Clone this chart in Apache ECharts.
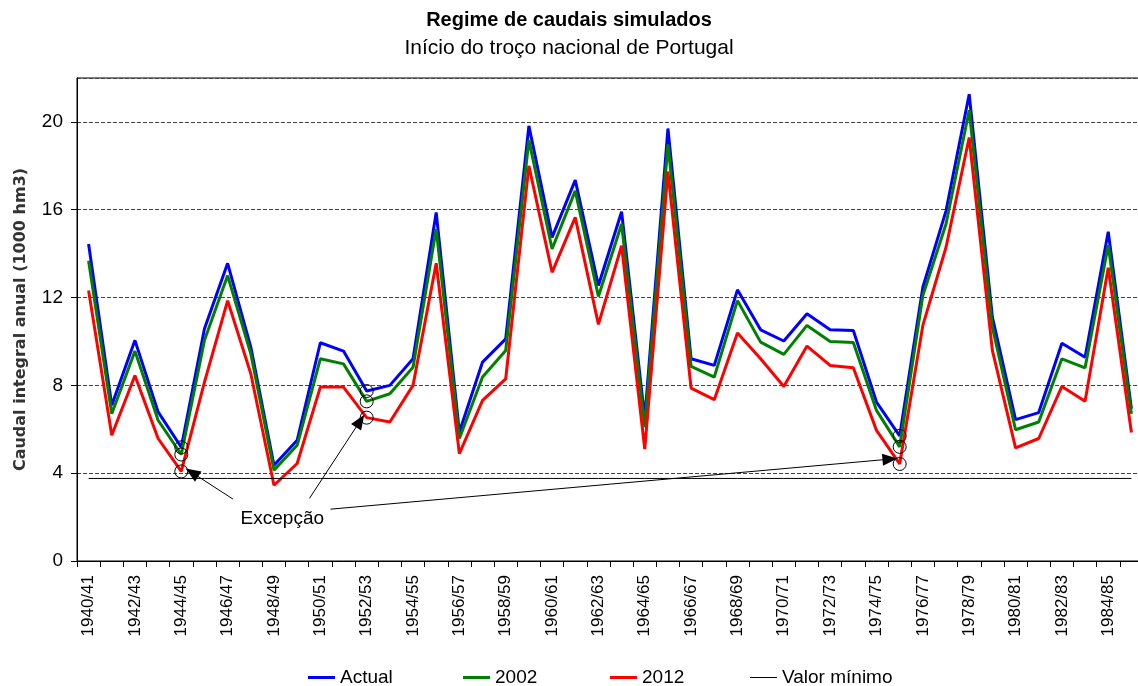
<!DOCTYPE html>
<html>
<head>
<meta charset="utf-8">
<script src="https://cdn.jsdelivr.net/npm/echarts@6/dist/echarts.min.js"></script>
<style>
    html, body { margin: 0; padding: 0; background: #fff; }
    #chart { width: 1138px; height: 686px; }
</style>
</head>
<body>
<div id="chart"></div>
<script>
const categories = [
    '1940/41', '1941/42', '1942/43', '1943/44', '1944/45', '1945/46', '1946/47', '1947/48',
    '1948/49', '1949/50', '1950/51', '1951/52', '1952/53', '1953/54', '1954/55', '1955/56',
    '1956/57', '1957/58', '1958/59', '1959/60', '1960/61', '1961/62', '1962/63', '1963/64',
    '1964/65', '1965/66', '1966/67', '1967/68', '1968/69', '1969/70', '1970/71', '1971/72',
    '1972/73', '1973/74', '1974/75', '1975/76', '1976/77', '1977/78', '1978/79', '1979/80',
    '1980/81', '1981/82', '1982/83', '1983/84', '1984/85', '1985/86'
];
const actual = [14.44, 7.09, 10.05, 6.79, 5.18, 10.58, 13.56, 9.74, 4.36, 5.5, 9.94, 9.56, 7.74, 8.0, 9.21, 15.88,
    5.88, 9.06, 10.12, 19.82, 14.74, 17.35, 12.55, 15.91, 6.5, 19.7, 9.21, 8.91, 12.35, 10.53, 10.02, 11.26,
    10.53, 10.5, 7.24, 5.7, 12.47, 15.95, 21.26, 11.11, 6.44, 6.76, 9.92, 9.28, 15.0, 6.94];
const v2002 = [13.68, 6.71, 9.56, 6.41, 4.85, 10.05, 13.0, 9.44, 4.14, 5.27, 9.21, 8.98, 7.27, 7.62, 8.83, 15.12,
    5.58, 8.38, 9.59, 19.17, 14.21, 16.86, 12.05, 15.35, 6.1, 18.98, 8.86, 8.38, 11.86, 9.97, 9.41, 10.73,
    10.0, 9.95, 6.86, 5.2, 12.09, 15.35, 20.53, 10.65, 5.98, 6.33, 9.21, 8.8, 14.38, 6.7];
const v2012 = [12.32, 5.73, 8.45, 5.58, 4.08, 8.15, 11.86, 8.53, 3.45, 4.44, 7.92, 7.92, 6.53, 6.33, 8.0, 13.56,
    4.89, 7.32, 8.3, 18.0, 13.15, 15.65, 10.78, 14.36, 5.1, 17.74, 7.87, 7.35, 10.38, 9.21, 7.95, 9.79,
    8.91, 8.8, 5.95, 4.42, 10.73, 14.29, 19.29, 9.59, 5.15, 5.58, 7.95, 7.28, 13.36, 5.85];
const valorMinimo = 3.76;
// anos assinalados como excepção (indices em categories)
const excecoes = [4, 12, 35];
// setas da anotação "Excepção": [x inicio, y inicio, x fim, y fim] em unidades de categoria / valor
const setas = [
    [6.23, 2.82, 4.46, 4.03],
    [9.53, 2.85, 11.72, 6.38],
    [10.44, 2.36, 34.58, 4.64]
];
const textoExcecao = [8.36, 1.91];

const fontBase = '"Liberation Sans", Arial, sans-serif';

const circulos = [];
excecoes.forEach(i => {
    circulos.push([i, actual[i]], [i, v2002[i]], [i, v2012[i]]);
});

const lineSeries = (name, data, color, width) => ({
    name: name,
    type: 'line',
    data: data,
    symbol: 'none',
    silent: true,
    lineStyle: { color: color, width: width },
    itemStyle: { color: color }
});

// uma legenda por item para repetir as posições do original
const legendAt = (name, left, thick) => ({
    data: [name],
    left: left,
    top: 663,
    icon: 'rect',
    itemWidth: 27,
    itemHeight: thick,
    itemGap: 6,
    textStyle: { fontFamily: fontBase, fontSize: 19, color: '#000' }
});

const chart = echarts.init(document.getElementById('chart'));
chart.setOption({
    animation: false,
    backgroundColor: '#fff',
    title: [{
        text: 'Regime de caudais simulados',
        left: 'center',
        top: 5,
        textStyle: { fontFamily: fontBase, fontSize: 20, fontWeight: 'bold', color: '#000' }
    }, {
        text: 'Início do troço nacional de Portugal',
        left: 'center',
        top: 33,
        textStyle: { fontFamily: fontBase, fontSize: 21, fontWeight: 'normal', color: '#000' }
    }],
    legend: [
        legendAt('Actual', 303, 3),
        legendAt('2002', 458, 3),
        legendAt('2012', 605, 3),
        legendAt('Valor mínimo', 745, 1)
    ],
    grid: {
        left: 77,
        top: 78,
        right: -5,
        bottom: 125,
        outerBoundsMode: 'none',
        show: true,
        borderColor: '#000',
        borderWidth: 1,
        backgroundColor: 'transparent'
    },
    xAxis: [{
        type: 'category',
        data: categories,
        boundaryGap: true,
        axisLine: { lineStyle: { color: '#000', width: 1 } },
        axisTick: { show: true, interval: 0, length: 6, lineStyle: { color: '#000' } },
        axisLabel: {
            interval: 1,
            rotate: 90,
            margin: 14,
            fontFamily: fontBase,
            fontSize: 17,
            color: '#000'
        },
        splitLine: { show: false }
    }, {
        type: 'value',
        min: -0.5,
        max: 45.5,
        show: false
    }],
    yAxis: {
        type: 'value',
        min: 0,
        max: 22,
        interval: 4,
        name: 'Caudal integral anual (1000 hm3)',
        nameLocation: 'middle',
        nameGap: 48,
        nameTextStyle: { fontFamily: '"DejaVu Sans", sans-serif', fontSize: 16, fontWeight: 'bold', color: '#333' },
        axisLine: { show: true, onZero: false, lineStyle: { color: '#000', width: 1 } },
        axisTick: { show: true, length: 6, lineStyle: { color: '#000' } },
        axisLabel: { fontFamily: fontBase, fontSize: 19, color: '#000', margin: 14, showMaxLabel: false },
        splitLine: { show: true, lineStyle: { color: '#444', type: [4, 2], width: 1 } }
    },
    series: [
        lineSeries('Actual', actual, '#0000ff', 3),
        lineSeries('2002', v2002, '#008000', 3),
        lineSeries('2012', v2012, '#ff0000', 3),
        lineSeries('Valor mínimo', categories.map(() => valorMinimo), '#000000', 1),
        {
            name: 'excepcoes',
            type: 'scatter',
            data: circulos,
            symbol: 'circle',
            symbolSize: 13,
            silent: true,
            itemStyle: { color: 'transparent', borderColor: '#000', borderWidth: 1, opacity: 1 },
            z: 5
        },
        {
            name: 'anotacao',
            type: 'scatter',
            xAxisIndex: 1,
            data: [textoExcecao],
            symbolSize: 0,
            silent: true,
            itemStyle: { opacity: 1 },
            label: {
                show: true,
                position: 'inside',
                formatter: 'Excepção',
                fontFamily: fontBase,
                fontSize: 19,
                color: '#000',
                textBorderWidth: 0
            },
            markLine: {
                silent: true,
                symbol: ['none', 'triangle'],
                symbolSize: [12, 15],
                label: { show: false },
                lineStyle: { color: '#000', width: 1, type: 'solid' },
                emphasis: { disabled: true },
                data: setas.map(s => [{ coord: [s[0], s[1]] }, { coord: [s[2], s[3]] }])
            }
        }
    ]
});
</script>
</body>
</html>
